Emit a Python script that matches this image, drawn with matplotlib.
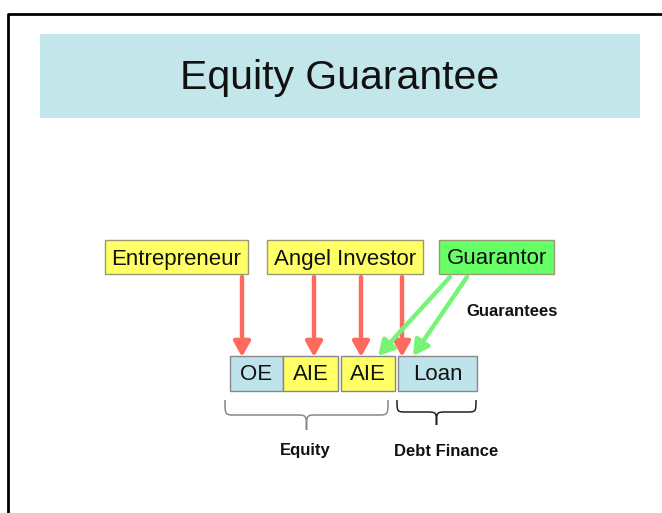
import matplotlib
matplotlib.use("Agg")
import matplotlib.pyplot as plt
from matplotlib.patches import Rectangle, FancyArrowPatch, PathPatch
from matplotlib.path import Path

plt.rcParams['font.family'] = ['Liberation Sans', 'DejaVu Sans']

title = "Equity Guarantee"
top_labels = ["Entrepreneur", "Angel Investor", "Guarantor"]
top_colors = ["#ffff66", "#ffff66", "#66ff66"]
top_x = [(105, 248), (267, 423), (439, 554)]
bottom_labels = ["OE", "AIE", "AIE", "Loan"]
bottom_colors = ["#bfe3ea", "#ffff66", "#ffff66", "#bfe3ea"]
bottom_x = [(230, 283), (283, 338), (341, 395), (398, 477)]
red_arrows_x = [242, 314, 361, 402]
green_arrows = [((450, 277), (378, 356)), ((467, 277), (413, 356))]
bracket_labels = ["Equity", "Debt Finance"]

W, H = 662, 513
fig = plt.figure(figsize=(W / 100, H / 100), dpi=100)
ax = fig.add_axes([0, 0, 1, 1])
ax.set_xlim(0, W)
ax.set_ylim(H, 0)
ax.axis('off')

# frame
ax.plot([8, 8, W], [H, 14, 14], color='black', lw=2, solid_capstyle='butt')

# title band
ax.add_patch(Rectangle((40, 34), 600, 84, facecolor='#c3e6eb', edgecolor='none'))
ax.text(340, 78, title, ha='center', va='center', fontsize=29.5, color='#111111')

# top boxes
for lab, col, (x0, x1) in zip(top_labels, top_colors, top_x):
    ax.add_patch(Rectangle((x0, 240), x1 - x0, 34, facecolor=col, edgecolor='#999977', lw=1))
    ax.text((x0 + x1) / 2, 259, lab, ha='center', va='center', fontsize=16, color='#111111')

# bottom boxes
for lab, col, (x0, x1) in zip(bottom_labels, bottom_colors, bottom_x):
    ax.add_patch(Rectangle((x0, 356), x1 - x0, 35, facecolor=col, edgecolor='#888888', lw=1))
    ax.text((x0 + x1) / 2, 375, lab, ha='center', va='center', fontsize=16, color='#111111')

style = '-|>,head_length=4.5,head_width=2.5'
# red arrows
for x in red_arrows_x:
    ax.add_patch(FancyArrowPatch((x, 277), (x, 357), arrowstyle=style,
                                 mutation_scale=2, color='#ff6a5e', lw=3.2, shrinkA=0, shrinkB=0))
# green arrows
for (p0, p1) in green_arrows:
    ax.add_patch(FancyArrowPatch(p0, p1, arrowstyle=style,
                                 mutation_scale=2, color='#77f477', lw=3.2, shrinkA=0, shrinkB=0))

ax.text(512, 312, "Guarantees", ha='center', va='center', fontsize=12, fontweight='bold', color='#111111')


def bracket(x0, x1, ytop, ymid, ytip, color):
    xm = (x0 + x1) / 2
    r = 10
    verts = [(x0, ytop), (x0, ymid), (x0, ymid), (x0 + r, ymid),
             (xm - r, ymid), (xm, ymid), (xm, ymid), (xm, ytip),
             (xm, ymid), (xm, ymid), (xm + r, ymid),
             (x1 - r, ymid), (x1, ymid), (x1, ymid), (x1, ytop)]
    codes = [Path.MOVETO, Path.CURVE4, Path.CURVE4, Path.CURVE4,
             Path.LINETO, Path.CURVE4, Path.CURVE4, Path.CURVE4,
             Path.CURVE4, Path.CURVE4, Path.CURVE4,
             Path.LINETO, Path.CURVE4, Path.CURVE4, Path.CURVE4]
    ax.add_patch(PathPatch(Path(verts, codes), facecolor='none', edgecolor=color, lw=1.1))


bracket(225, 388, 400, 415, 430, '#888888')
bracket(397, 476, 400, 412, 425, '#222222')

ax.text(305, 451, bracket_labels[0], ha='center', va='center', fontsize=12, fontweight='bold', color='#111111')
ax.text(446, 451, bracket_labels[1], ha='center', va='center', fontsize=12, fontweight='bold', color='#111111')

fig.savefig("out.png", dpi=100)
